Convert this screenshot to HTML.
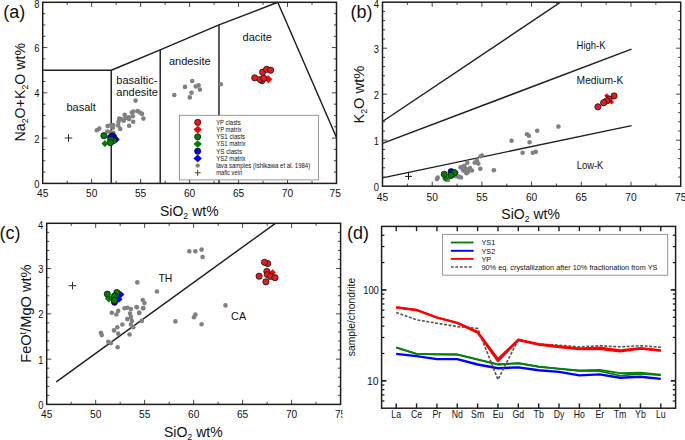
<!DOCTYPE html><html><head><meta charset="utf-8"><style>html,body{margin:0;padding:0;background:#fff;width:685px;height:440px;overflow:hidden}svg{display:block}</style></head><body><svg width="685" height="440" viewBox="0 0 685 440" font-family="'Liberation Sans', sans-serif">
<rect width="685" height="440" fill="#fff"/>
<line x1="42.70" y1="70.21" x2="111.25" y2="70.21" stroke="#1e1e1e" stroke-width="1.45" />
<line x1="111.25" y1="183.40" x2="111.25" y2="70.21" stroke="#1e1e1e" stroke-width="1.45" />
<line x1="160.22" y1="183.40" x2="160.22" y2="49.84" stroke="#1e1e1e" stroke-width="1.45" />
<line x1="218.98" y1="183.40" x2="218.98" y2="24.94" stroke="#1e1e1e" stroke-width="1.45" />
<polyline points="111.25,70.21 160.22,49.84 218.98,24.94 277.74,2.30" fill="none" stroke="#1e1e1e" stroke-width="1.45"/>
<line x1="277.74" y1="2.30" x2="336.50" y2="137.45" stroke="#1e1e1e" stroke-width="1.45" />
<circle cx="135.60" cy="100.60" r="2.3" fill="#808080" stroke="none" stroke-width="0"/>
<circle cx="96.80" cy="130.20" r="2.3" fill="#808080" stroke="none" stroke-width="0"/>
<circle cx="99.30" cy="128.60" r="2.3" fill="#808080" stroke="none" stroke-width="0"/>
<circle cx="107.60" cy="126.10" r="2.3" fill="#808080" stroke="none" stroke-width="0"/>
<circle cx="110.50" cy="125.40" r="2.3" fill="#808080" stroke="none" stroke-width="0"/>
<circle cx="113.30" cy="125.10" r="2.3" fill="#808080" stroke="none" stroke-width="0"/>
<circle cx="113.00" cy="127.60" r="2.3" fill="#808080" stroke="none" stroke-width="0"/>
<circle cx="107.30" cy="131.50" r="2.3" fill="#808080" stroke="none" stroke-width="0"/>
<circle cx="110.50" cy="132.10" r="2.3" fill="#808080" stroke="none" stroke-width="0"/>
<circle cx="113.30" cy="132.70" r="2.3" fill="#808080" stroke="none" stroke-width="0"/>
<circle cx="119.20" cy="118.60" r="2.3" fill="#808080" stroke="none" stroke-width="0"/>
<circle cx="118.50" cy="122.00" r="2.3" fill="#808080" stroke="none" stroke-width="0"/>
<circle cx="118.20" cy="125.40" r="2.3" fill="#808080" stroke="none" stroke-width="0"/>
<circle cx="120.20" cy="128.90" r="2.3" fill="#808080" stroke="none" stroke-width="0"/>
<circle cx="121.60" cy="119.30" r="2.3" fill="#808080" stroke="none" stroke-width="0"/>
<circle cx="123.60" cy="120.70" r="2.3" fill="#808080" stroke="none" stroke-width="0"/>
<circle cx="124.70" cy="114.90" r="2.3" fill="#808080" stroke="none" stroke-width="0"/>
<circle cx="125.70" cy="118.00" r="2.3" fill="#808080" stroke="none" stroke-width="0"/>
<circle cx="128.10" cy="118.00" r="2.3" fill="#808080" stroke="none" stroke-width="0"/>
<circle cx="129.10" cy="119.30" r="2.3" fill="#808080" stroke="none" stroke-width="0"/>
<circle cx="128.70" cy="117.30" r="2.3" fill="#808080" stroke="none" stroke-width="0"/>
<circle cx="131.80" cy="112.50" r="2.3" fill="#808080" stroke="none" stroke-width="0"/>
<circle cx="133.50" cy="111.50" r="2.3" fill="#808080" stroke="none" stroke-width="0"/>
<circle cx="132.80" cy="116.20" r="2.3" fill="#808080" stroke="none" stroke-width="0"/>
<circle cx="133.20" cy="121.70" r="2.3" fill="#808080" stroke="none" stroke-width="0"/>
<circle cx="129.10" cy="125.80" r="2.3" fill="#808080" stroke="none" stroke-width="0"/>
<circle cx="137.60" cy="111.10" r="2.3" fill="#808080" stroke="none" stroke-width="0"/>
<circle cx="140.00" cy="112.50" r="2.3" fill="#808080" stroke="none" stroke-width="0"/>
<circle cx="142.00" cy="113.90" r="2.3" fill="#808080" stroke="none" stroke-width="0"/>
<circle cx="143.40" cy="118.60" r="2.3" fill="#808080" stroke="none" stroke-width="0"/>
<circle cx="174.30" cy="95.00" r="2.3" fill="#808080" stroke="none" stroke-width="0"/>
<circle cx="185.00" cy="86.90" r="2.3" fill="#808080" stroke="none" stroke-width="0"/>
<circle cx="192.20" cy="81.00" r="2.3" fill="#808080" stroke="none" stroke-width="0"/>
<circle cx="195.80" cy="86.40" r="2.3" fill="#808080" stroke="none" stroke-width="0"/>
<circle cx="198.60" cy="85.30" r="2.3" fill="#808080" stroke="none" stroke-width="0"/>
<circle cx="199.90" cy="89.60" r="2.3" fill="#808080" stroke="none" stroke-width="0"/>
<circle cx="191.50" cy="92.70" r="2.3" fill="#808080" stroke="none" stroke-width="0"/>
<circle cx="189.80" cy="97.40" r="2.3" fill="#808080" stroke="none" stroke-width="0"/>
<circle cx="220.80" cy="84.30" r="2.3" fill="#808080" stroke="none" stroke-width="0"/>
<line x1="67.18" y1="183.40" x2="67.18" y2="180.80" stroke="#444" stroke-width="1.0" />
<line x1="67.18" y1="2.30" x2="67.18" y2="4.90" stroke="#444" stroke-width="1.0" />
<line x1="116.15" y1="183.40" x2="116.15" y2="180.80" stroke="#444" stroke-width="1.0" />
<line x1="116.15" y1="2.30" x2="116.15" y2="4.90" stroke="#444" stroke-width="1.0" />
<line x1="165.12" y1="183.40" x2="165.12" y2="180.80" stroke="#444" stroke-width="1.0" />
<line x1="165.12" y1="2.30" x2="165.12" y2="4.90" stroke="#444" stroke-width="1.0" />
<line x1="214.08" y1="183.40" x2="214.08" y2="180.80" stroke="#444" stroke-width="1.0" />
<line x1="214.08" y1="2.30" x2="214.08" y2="4.90" stroke="#444" stroke-width="1.0" />
<line x1="263.05" y1="183.40" x2="263.05" y2="180.80" stroke="#444" stroke-width="1.0" />
<line x1="263.05" y1="2.30" x2="263.05" y2="4.90" stroke="#444" stroke-width="1.0" />
<line x1="312.02" y1="183.40" x2="312.02" y2="180.80" stroke="#444" stroke-width="1.0" />
<line x1="312.02" y1="2.30" x2="312.02" y2="4.90" stroke="#444" stroke-width="1.0" />
<line x1="91.67" y1="183.40" x2="91.67" y2="178.80" stroke="#444" stroke-width="1.0" />
<line x1="91.67" y1="2.30" x2="91.67" y2="6.90" stroke="#444" stroke-width="1.0" />
<line x1="140.63" y1="183.40" x2="140.63" y2="178.80" stroke="#444" stroke-width="1.0" />
<line x1="140.63" y1="2.30" x2="140.63" y2="6.90" stroke="#444" stroke-width="1.0" />
<line x1="189.60" y1="183.40" x2="189.60" y2="178.80" stroke="#444" stroke-width="1.0" />
<line x1="189.60" y1="2.30" x2="189.60" y2="6.90" stroke="#444" stroke-width="1.0" />
<line x1="238.57" y1="183.40" x2="238.57" y2="178.80" stroke="#444" stroke-width="1.0" />
<line x1="238.57" y1="2.30" x2="238.57" y2="6.90" stroke="#444" stroke-width="1.0" />
<line x1="287.53" y1="183.40" x2="287.53" y2="178.80" stroke="#444" stroke-width="1.0" />
<line x1="287.53" y1="2.30" x2="287.53" y2="6.90" stroke="#444" stroke-width="1.0" />
<line x1="42.70" y1="172.08" x2="45.30" y2="172.08" stroke="#444" stroke-width="1.0" />
<line x1="336.50" y1="172.08" x2="333.90" y2="172.08" stroke="#444" stroke-width="1.0" />
<line x1="42.70" y1="160.76" x2="45.30" y2="160.76" stroke="#444" stroke-width="1.0" />
<line x1="336.50" y1="160.76" x2="333.90" y2="160.76" stroke="#444" stroke-width="1.0" />
<line x1="42.70" y1="149.44" x2="45.30" y2="149.44" stroke="#444" stroke-width="1.0" />
<line x1="336.50" y1="149.44" x2="333.90" y2="149.44" stroke="#444" stroke-width="1.0" />
<line x1="42.70" y1="126.81" x2="45.30" y2="126.81" stroke="#444" stroke-width="1.0" />
<line x1="336.50" y1="126.81" x2="333.90" y2="126.81" stroke="#444" stroke-width="1.0" />
<line x1="42.70" y1="115.49" x2="45.30" y2="115.49" stroke="#444" stroke-width="1.0" />
<line x1="336.50" y1="115.49" x2="333.90" y2="115.49" stroke="#444" stroke-width="1.0" />
<line x1="42.70" y1="104.17" x2="45.30" y2="104.17" stroke="#444" stroke-width="1.0" />
<line x1="336.50" y1="104.17" x2="333.90" y2="104.17" stroke="#444" stroke-width="1.0" />
<line x1="42.70" y1="81.53" x2="45.30" y2="81.53" stroke="#444" stroke-width="1.0" />
<line x1="336.50" y1="81.53" x2="333.90" y2="81.53" stroke="#444" stroke-width="1.0" />
<line x1="42.70" y1="70.21" x2="45.30" y2="70.21" stroke="#444" stroke-width="1.0" />
<line x1="336.50" y1="70.21" x2="333.90" y2="70.21" stroke="#444" stroke-width="1.0" />
<line x1="42.70" y1="58.89" x2="45.30" y2="58.89" stroke="#444" stroke-width="1.0" />
<line x1="336.50" y1="58.89" x2="333.90" y2="58.89" stroke="#444" stroke-width="1.0" />
<line x1="42.70" y1="36.26" x2="45.30" y2="36.26" stroke="#444" stroke-width="1.0" />
<line x1="336.50" y1="36.26" x2="333.90" y2="36.26" stroke="#444" stroke-width="1.0" />
<line x1="42.70" y1="24.94" x2="45.30" y2="24.94" stroke="#444" stroke-width="1.0" />
<line x1="336.50" y1="24.94" x2="333.90" y2="24.94" stroke="#444" stroke-width="1.0" />
<line x1="42.70" y1="13.62" x2="45.30" y2="13.62" stroke="#444" stroke-width="1.0" />
<line x1="336.50" y1="13.62" x2="333.90" y2="13.62" stroke="#444" stroke-width="1.0" />
<line x1="42.70" y1="138.12" x2="47.30" y2="138.12" stroke="#444" stroke-width="1.0" />
<line x1="336.50" y1="138.12" x2="331.90" y2="138.12" stroke="#444" stroke-width="1.0" />
<line x1="42.70" y1="92.85" x2="47.30" y2="92.85" stroke="#444" stroke-width="1.0" />
<line x1="336.50" y1="92.85" x2="331.90" y2="92.85" stroke="#444" stroke-width="1.0" />
<line x1="42.70" y1="47.58" x2="47.30" y2="47.58" stroke="#444" stroke-width="1.0" />
<line x1="336.50" y1="47.58" x2="331.90" y2="47.58" stroke="#444" stroke-width="1.0" />
<text x="116.35" y="83.50" font-size="11" text-anchor="start" fill="#111" >basaltic-</text>
<text x="116.35" y="95.50" font-size="11" text-anchor="start" fill="#111" >andesite</text>
<text x="66.40" y="111.00" font-size="11" text-anchor="start" fill="#111" >basalt</text>
<text x="169.00" y="64.90" font-size="11" text-anchor="start" fill="#111" >andesite</text>
<text x="242.60" y="40.70" font-size="11" text-anchor="start" fill="#111" >dacite</text>
<path d="M113.50 139.40L116.60 136.10L119.70 139.40L116.60 142.70Z" fill="#0000ff" stroke="none" stroke-width="0"/>
<circle cx="113.50" cy="136.80" r="3.1" fill="#0000ff" stroke="#111" stroke-width="0.8"/>
<circle cx="112.30" cy="135.90" r="3.1" fill="#0000ff" stroke="#111" stroke-width="0.8"/>
<circle cx="110.60" cy="137.40" r="3.1" fill="#0000ff" stroke="#111" stroke-width="0.8"/>
<circle cx="103.90" cy="135.70" r="3.1" fill="#008000" stroke="#111" stroke-width="0.8"/>
<path d="M101.50 143.60L104.90 140.00L108.30 143.60L104.90 147.20Z" fill="#008000" stroke="none" stroke-width="0"/>
<circle cx="113.50" cy="140.60" r="3.1" fill="#008000" stroke="#111" stroke-width="0.8"/>
<circle cx="110.80" cy="139.80" r="3.1" fill="#008000" stroke="#111" stroke-width="0.8"/>
<circle cx="110.40" cy="142.70" r="3.1" fill="#008000" stroke="#111" stroke-width="0.8"/>
<path d="M264.30 79.30L268.30 75.30L272.30 79.30L268.30 83.30Z" fill="#ff0000" stroke="none" stroke-width="0"/>
<circle cx="254.70" cy="77.80" r="3.1" fill="#e41c1f" stroke="#111" stroke-width="0.8"/>
<circle cx="262.00" cy="80.70" r="3.1" fill="#e41c1f" stroke="#111" stroke-width="0.8"/>
<circle cx="260.30" cy="79.50" r="3.1" fill="#e41c1f" stroke="#111" stroke-width="0.8"/>
<circle cx="263.80" cy="78.20" r="3.1" fill="#e41c1f" stroke="#111" stroke-width="0.8"/>
<circle cx="262.60" cy="72.20" r="3.1" fill="#e41c1f" stroke="#111" stroke-width="0.8"/>
<circle cx="266.60" cy="69.30" r="3.1" fill="#e41c1f" stroke="#111" stroke-width="0.8"/>
<circle cx="270.60" cy="70.20" r="3.1" fill="#e41c1f" stroke="#111" stroke-width="0.8"/>
<line x1="64.75" y1="138.00" x2="72.25" y2="138.00" stroke="#2a2a2a" stroke-width="1.0" />
<line x1="68.50" y1="134.25" x2="68.50" y2="141.75" stroke="#2a2a2a" stroke-width="1.0" />
<rect x="179.4" y="115.3" width="139.0" height="64.6" fill="#fff" stroke="#8a8a8a" stroke-width="0.9"/>
<circle cx="197.70" cy="122.40" r="3.1" fill="#e41c1f" stroke="#111" stroke-width="0.8"/>
<path d="M193.40 129.60L197.70 125.80L202.00 129.60L197.70 133.40Z" fill="#ff0000" stroke="none" stroke-width="0"/>
<circle cx="197.70" cy="136.80" r="3.1" fill="#008000" stroke="#111" stroke-width="0.8"/>
<path d="M193.40 144.00L197.70 140.20L202.00 144.00L197.70 147.80Z" fill="#008000" stroke="none" stroke-width="0"/>
<circle cx="197.70" cy="151.20" r="3.1" fill="#0000ff" stroke="#111" stroke-width="0.8"/>
<path d="M193.40 158.40L197.70 154.60L202.00 158.40L197.70 162.20Z" fill="#0000ff" stroke="none" stroke-width="0"/>
<circle cx="197.70" cy="165.60" r="2.2" fill="#808080" stroke="none" stroke-width="0"/>
<line x1="194.70" y1="172.80" x2="200.70" y2="172.80" stroke="#333" stroke-width="0.9" />
<line x1="197.70" y1="169.80" x2="197.70" y2="175.80" stroke="#333" stroke-width="0.9" />
<text x="216.20" y="124.80" font-size="6.5" text-anchor="start" fill="#111" textLength="24.5" lengthAdjust="spacingAndGlyphs">YP clasts</text>
<text x="216.20" y="132.00" font-size="6.5" text-anchor="start" fill="#111" textLength="25.5" lengthAdjust="spacingAndGlyphs">YP matrix</text>
<text x="216.20" y="139.20" font-size="6.5" text-anchor="start" fill="#111" textLength="29" lengthAdjust="spacingAndGlyphs">YS1 clasts</text>
<text x="216.20" y="146.40" font-size="6.5" text-anchor="start" fill="#111" textLength="29.4" lengthAdjust="spacingAndGlyphs">YS1 matrix</text>
<text x="216.20" y="153.60" font-size="6.5" text-anchor="start" fill="#111" textLength="25.8" lengthAdjust="spacingAndGlyphs">YS clasts</text>
<text x="216.20" y="160.80" font-size="6.5" text-anchor="start" fill="#111" textLength="29.4" lengthAdjust="spacingAndGlyphs">YS2 matrix</text>
<text x="216.20" y="168.00" font-size="6.5" text-anchor="start" fill="#111" textLength="94" lengthAdjust="spacingAndGlyphs">lava samples (Ishikawa et al. 1984)</text>
<text x="216.20" y="175.20" font-size="6.5" text-anchor="start" fill="#111" textLength="26" lengthAdjust="spacingAndGlyphs">mafic vein</text>
<rect x="42.7" y="2.3" width="293.80" height="181.10" fill="none" stroke="#1e1e1e" stroke-width="1.5"/>
<text transform="translate(39.40,187.90) scale(0.9,1)" font-size="10.4" text-anchor="end" fill="#111" >0</text>
<text transform="translate(39.40,142.62) scale(0.9,1)" font-size="10.4" text-anchor="end" fill="#111" >2</text>
<text transform="translate(39.40,97.35) scale(0.9,1)" font-size="10.4" text-anchor="end" fill="#111" >4</text>
<text transform="translate(39.40,52.08) scale(0.9,1)" font-size="10.4" text-anchor="end" fill="#111" >6</text>
<text transform="translate(39.40,7.80) scale(0.9,1)" font-size="10.4" text-anchor="end" fill="#111" >8</text>
<text x="42.70" y="197.20" font-size="10.2" text-anchor="middle" fill="#111" >45</text>
<text x="91.67" y="197.20" font-size="10.2" text-anchor="middle" fill="#111" >50</text>
<text x="140.63" y="197.20" font-size="10.2" text-anchor="middle" fill="#111" >55</text>
<text x="189.60" y="197.20" font-size="10.2" text-anchor="middle" fill="#111" >60</text>
<text x="238.57" y="197.20" font-size="10.2" text-anchor="middle" fill="#111" >65</text>
<text x="287.53" y="197.20" font-size="10.2" text-anchor="middle" fill="#111" >70</text>
<text x="335.20" y="197.20" font-size="10.2" text-anchor="middle" fill="#111" >75</text>
<text x="189.30" y="215.80" font-size="14" text-anchor="middle" fill="#111" >SiO<tspan font-size="8.8" dy="2.7">2</tspan><tspan dy="-2.7"> wt%</tspan></text>
<text transform="translate(24.8,92.2) rotate(-90)" font-size="14.2" text-anchor="middle" fill="#111">Na<tspan font-size="8.8" dy="2.7">2</tspan><tspan dy="-2.7">O+K</tspan><tspan font-size="8.8" dy="2.7">2</tspan><tspan dy="-2.7">O wt%</tspan></text>
<text x="3.20" y="17.90" font-size="18" text-anchor="start" fill="#111" >(a)</text>
<clipPath id="cb"><rect x="382.5" y="2.2" width="298.20000000000005" height="184.0"/></clipPath>
<g clip-path="url(#cb)">
<line x1="382.50" y1="177.90" x2="631.60" y2="125.60" stroke="#1e1e1e" stroke-width="1.45" />
<line x1="382.50" y1="143.40" x2="631.50" y2="49.10" stroke="#1e1e1e" stroke-width="1.45" />
<line x1="382.50" y1="121.50" x2="560.50" y2="2.20" stroke="#1e1e1e" stroke-width="1.45" />
</g>
<circle cx="511.60" cy="140.70" r="2.3" fill="#808080" stroke="none" stroke-width="0"/>
<circle cx="480.60" cy="156.20" r="2.3" fill="#808080" stroke="none" stroke-width="0"/>
<circle cx="482.00" cy="155.50" r="2.3" fill="#808080" stroke="none" stroke-width="0"/>
<circle cx="478.30" cy="163.60" r="2.3" fill="#808080" stroke="none" stroke-width="0"/>
<circle cx="474.70" cy="162.80" r="2.3" fill="#808080" stroke="none" stroke-width="0"/>
<circle cx="476.90" cy="160.60" r="2.3" fill="#808080" stroke="none" stroke-width="0"/>
<circle cx="480.30" cy="168.70" r="2.3" fill="#808080" stroke="none" stroke-width="0"/>
<circle cx="493.90" cy="170.20" r="2.3" fill="#808080" stroke="none" stroke-width="0"/>
<circle cx="467.30" cy="162.80" r="2.3" fill="#808080" stroke="none" stroke-width="0"/>
<circle cx="464.30" cy="165.80" r="2.3" fill="#808080" stroke="none" stroke-width="0"/>
<circle cx="460.60" cy="167.30" r="2.3" fill="#808080" stroke="none" stroke-width="0"/>
<circle cx="465.80" cy="168.70" r="2.3" fill="#808080" stroke="none" stroke-width="0"/>
<circle cx="468.70" cy="169.50" r="2.3" fill="#808080" stroke="none" stroke-width="0"/>
<circle cx="464.30" cy="171.00" r="2.3" fill="#808080" stroke="none" stroke-width="0"/>
<circle cx="466.50" cy="173.20" r="2.3" fill="#808080" stroke="none" stroke-width="0"/>
<circle cx="437.70" cy="177.60" r="2.3" fill="#808080" stroke="none" stroke-width="0"/>
<circle cx="437.00" cy="179.10" r="2.3" fill="#808080" stroke="none" stroke-width="0"/>
<circle cx="445.10" cy="179.10" r="2.3" fill="#808080" stroke="none" stroke-width="0"/>
<circle cx="459.10" cy="176.90" r="2.3" fill="#808080" stroke="none" stroke-width="0"/>
<circle cx="455.50" cy="176.10" r="2.3" fill="#808080" stroke="none" stroke-width="0"/>
<circle cx="462.00" cy="167.00" r="2.3" fill="#808080" stroke="none" stroke-width="0"/>
<circle cx="470.00" cy="168.00" r="2.3" fill="#808080" stroke="none" stroke-width="0"/>
<circle cx="472.00" cy="170.50" r="2.3" fill="#808080" stroke="none" stroke-width="0"/>
<circle cx="468.00" cy="172.00" r="2.3" fill="#808080" stroke="none" stroke-width="0"/>
<circle cx="463.00" cy="170.00" r="2.3" fill="#808080" stroke="none" stroke-width="0"/>
<circle cx="458.00" cy="176.50" r="2.3" fill="#808080" stroke="none" stroke-width="0"/>
<circle cx="461.00" cy="177.50" r="2.3" fill="#808080" stroke="none" stroke-width="0"/>
<circle cx="448.00" cy="180.00" r="2.3" fill="#808080" stroke="none" stroke-width="0"/>
<circle cx="527.00" cy="134.30" r="2.3" fill="#808080" stroke="none" stroke-width="0"/>
<circle cx="528.90" cy="135.80" r="2.3" fill="#808080" stroke="none" stroke-width="0"/>
<circle cx="537.20" cy="130.70" r="2.3" fill="#808080" stroke="none" stroke-width="0"/>
<circle cx="558.40" cy="126.60" r="2.3" fill="#808080" stroke="none" stroke-width="0"/>
<circle cx="529.60" cy="142.30" r="2.3" fill="#808080" stroke="none" stroke-width="0"/>
<circle cx="522.60" cy="152.80" r="2.3" fill="#808080" stroke="none" stroke-width="0"/>
<circle cx="532.80" cy="152.80" r="2.3" fill="#808080" stroke="none" stroke-width="0"/>
<circle cx="535.80" cy="151.80" r="2.3" fill="#808080" stroke="none" stroke-width="0"/>
<line x1="407.35" y1="186.20" x2="407.35" y2="183.60" stroke="#444" stroke-width="1.0" />
<line x1="407.35" y1="2.20" x2="407.35" y2="4.80" stroke="#444" stroke-width="1.0" />
<line x1="457.05" y1="186.20" x2="457.05" y2="183.60" stroke="#444" stroke-width="1.0" />
<line x1="457.05" y1="2.20" x2="457.05" y2="4.80" stroke="#444" stroke-width="1.0" />
<line x1="506.75" y1="186.20" x2="506.75" y2="183.60" stroke="#444" stroke-width="1.0" />
<line x1="506.75" y1="2.20" x2="506.75" y2="4.80" stroke="#444" stroke-width="1.0" />
<line x1="556.45" y1="186.20" x2="556.45" y2="183.60" stroke="#444" stroke-width="1.0" />
<line x1="556.45" y1="2.20" x2="556.45" y2="4.80" stroke="#444" stroke-width="1.0" />
<line x1="606.15" y1="186.20" x2="606.15" y2="183.60" stroke="#444" stroke-width="1.0" />
<line x1="606.15" y1="2.20" x2="606.15" y2="4.80" stroke="#444" stroke-width="1.0" />
<line x1="655.85" y1="186.20" x2="655.85" y2="183.60" stroke="#444" stroke-width="1.0" />
<line x1="655.85" y1="2.20" x2="655.85" y2="4.80" stroke="#444" stroke-width="1.0" />
<line x1="432.20" y1="186.20" x2="432.20" y2="181.60" stroke="#444" stroke-width="1.0" />
<line x1="432.20" y1="2.20" x2="432.20" y2="6.80" stroke="#444" stroke-width="1.0" />
<line x1="481.90" y1="186.20" x2="481.90" y2="181.60" stroke="#444" stroke-width="1.0" />
<line x1="481.90" y1="2.20" x2="481.90" y2="6.80" stroke="#444" stroke-width="1.0" />
<line x1="531.60" y1="186.20" x2="531.60" y2="181.60" stroke="#444" stroke-width="1.0" />
<line x1="531.60" y1="2.20" x2="531.60" y2="6.80" stroke="#444" stroke-width="1.0" />
<line x1="581.30" y1="186.20" x2="581.30" y2="181.60" stroke="#444" stroke-width="1.0" />
<line x1="581.30" y1="2.20" x2="581.30" y2="6.80" stroke="#444" stroke-width="1.0" />
<line x1="631.00" y1="186.20" x2="631.00" y2="181.60" stroke="#444" stroke-width="1.0" />
<line x1="631.00" y1="2.20" x2="631.00" y2="6.80" stroke="#444" stroke-width="1.0" />
<line x1="382.50" y1="177.00" x2="385.10" y2="177.00" stroke="#444" stroke-width="1.0" />
<line x1="680.70" y1="177.00" x2="678.10" y2="177.00" stroke="#444" stroke-width="1.0" />
<line x1="382.50" y1="167.80" x2="385.10" y2="167.80" stroke="#444" stroke-width="1.0" />
<line x1="680.70" y1="167.80" x2="678.10" y2="167.80" stroke="#444" stroke-width="1.0" />
<line x1="382.50" y1="158.60" x2="385.10" y2="158.60" stroke="#444" stroke-width="1.0" />
<line x1="680.70" y1="158.60" x2="678.10" y2="158.60" stroke="#444" stroke-width="1.0" />
<line x1="382.50" y1="149.40" x2="385.10" y2="149.40" stroke="#444" stroke-width="1.0" />
<line x1="680.70" y1="149.40" x2="678.10" y2="149.40" stroke="#444" stroke-width="1.0" />
<line x1="382.50" y1="131.00" x2="385.10" y2="131.00" stroke="#444" stroke-width="1.0" />
<line x1="680.70" y1="131.00" x2="678.10" y2="131.00" stroke="#444" stroke-width="1.0" />
<line x1="382.50" y1="121.80" x2="385.10" y2="121.80" stroke="#444" stroke-width="1.0" />
<line x1="680.70" y1="121.80" x2="678.10" y2="121.80" stroke="#444" stroke-width="1.0" />
<line x1="382.50" y1="112.60" x2="385.10" y2="112.60" stroke="#444" stroke-width="1.0" />
<line x1="680.70" y1="112.60" x2="678.10" y2="112.60" stroke="#444" stroke-width="1.0" />
<line x1="382.50" y1="103.40" x2="385.10" y2="103.40" stroke="#444" stroke-width="1.0" />
<line x1="680.70" y1="103.40" x2="678.10" y2="103.40" stroke="#444" stroke-width="1.0" />
<line x1="382.50" y1="85.00" x2="385.10" y2="85.00" stroke="#444" stroke-width="1.0" />
<line x1="680.70" y1="85.00" x2="678.10" y2="85.00" stroke="#444" stroke-width="1.0" />
<line x1="382.50" y1="75.80" x2="385.10" y2="75.80" stroke="#444" stroke-width="1.0" />
<line x1="680.70" y1="75.80" x2="678.10" y2="75.80" stroke="#444" stroke-width="1.0" />
<line x1="382.50" y1="66.60" x2="385.10" y2="66.60" stroke="#444" stroke-width="1.0" />
<line x1="680.70" y1="66.60" x2="678.10" y2="66.60" stroke="#444" stroke-width="1.0" />
<line x1="382.50" y1="57.40" x2="385.10" y2="57.40" stroke="#444" stroke-width="1.0" />
<line x1="680.70" y1="57.40" x2="678.10" y2="57.40" stroke="#444" stroke-width="1.0" />
<line x1="382.50" y1="39.00" x2="385.10" y2="39.00" stroke="#444" stroke-width="1.0" />
<line x1="680.70" y1="39.00" x2="678.10" y2="39.00" stroke="#444" stroke-width="1.0" />
<line x1="382.50" y1="29.80" x2="385.10" y2="29.80" stroke="#444" stroke-width="1.0" />
<line x1="680.70" y1="29.80" x2="678.10" y2="29.80" stroke="#444" stroke-width="1.0" />
<line x1="382.50" y1="20.60" x2="385.10" y2="20.60" stroke="#444" stroke-width="1.0" />
<line x1="680.70" y1="20.60" x2="678.10" y2="20.60" stroke="#444" stroke-width="1.0" />
<line x1="382.50" y1="11.40" x2="385.10" y2="11.40" stroke="#444" stroke-width="1.0" />
<line x1="680.70" y1="11.40" x2="678.10" y2="11.40" stroke="#444" stroke-width="1.0" />
<line x1="382.50" y1="140.20" x2="387.10" y2="140.20" stroke="#444" stroke-width="1.0" />
<line x1="680.70" y1="140.20" x2="676.10" y2="140.20" stroke="#444" stroke-width="1.0" />
<line x1="382.50" y1="94.20" x2="387.10" y2="94.20" stroke="#444" stroke-width="1.0" />
<line x1="680.70" y1="94.20" x2="676.10" y2="94.20" stroke="#444" stroke-width="1.0" />
<line x1="382.50" y1="48.20" x2="387.10" y2="48.20" stroke="#444" stroke-width="1.0" />
<line x1="680.70" y1="48.20" x2="676.10" y2="48.20" stroke="#444" stroke-width="1.0" />
<text x="576.60" y="48.80" font-size="10.4" text-anchor="start" fill="#111" textLength="29" lengthAdjust="spacingAndGlyphs">High-K</text>
<text x="576.60" y="83.50" font-size="10.4" text-anchor="start" fill="#111" textLength="46.8" lengthAdjust="spacingAndGlyphs">Medium-K</text>
<text x="576.70" y="168.80" font-size="10.4" text-anchor="start" fill="#111" textLength="26.6" lengthAdjust="spacingAndGlyphs">Low-K</text>
<circle cx="451.20" cy="171.60" r="3.1" fill="#0000ff" stroke="#111" stroke-width="0.8"/>
<path d="M451.40 172.60L455.00 169.00L458.60 172.60L455.00 176.20Z" fill="#0000ff" stroke="none" stroke-width="0"/>
<path d="M442.10 178.20L445.70 174.60L449.30 178.20L445.70 181.80Z" fill="#008000" stroke="none" stroke-width="0"/>
<circle cx="444.30" cy="174.30" r="3.1" fill="#008000" stroke="#111" stroke-width="0.8"/>
<circle cx="454.50" cy="172.80" r="3.1" fill="#008000" stroke="#111" stroke-width="0.8"/>
<circle cx="451.00" cy="175.50" r="3.1" fill="#008000" stroke="#111" stroke-width="0.8"/>
<path d="M604.20 95.80L606.80 93.20L609.40 95.80L606.80 98.40Z" fill="#ff0000" stroke="none" stroke-width="0"/>
<path d="M608.80 102.00L611.40 99.40L614.00 102.00L611.40 104.60Z" fill="#ff0000" stroke="none" stroke-width="0"/>
<circle cx="614.10" cy="95.90" r="3.1" fill="#e41c1f" stroke="#111" stroke-width="0.8"/>
<circle cx="609.10" cy="99.10" r="3.1" fill="#e41c1f" stroke="#111" stroke-width="0.8"/>
<circle cx="606.80" cy="100.90" r="3.1" fill="#e41c1f" stroke="#111" stroke-width="0.8"/>
<circle cx="603.60" cy="102.70" r="3.1" fill="#e41c1f" stroke="#111" stroke-width="0.8"/>
<circle cx="597.90" cy="106.80" r="3.1" fill="#e41c1f" stroke="#111" stroke-width="0.8"/>
<line x1="405.05" y1="176.40" x2="411.95" y2="176.40" stroke="#111" stroke-width="1.0" />
<line x1="408.50" y1="172.95" x2="408.50" y2="179.85" stroke="#111" stroke-width="1.0" />
<rect x="382.5" y="2.2" width="298.20" height="184.00" fill="none" stroke="#1e1e1e" stroke-width="1.5"/>
<text transform="translate(379.00,190.70) scale(0.88,1)" font-size="10.6" text-anchor="end" fill="#111" >0</text>
<text transform="translate(379.00,144.70) scale(0.88,1)" font-size="10.6" text-anchor="end" fill="#111" >1</text>
<text transform="translate(379.00,98.70) scale(0.88,1)" font-size="10.6" text-anchor="end" fill="#111" >2</text>
<text transform="translate(379.00,52.70) scale(0.88,1)" font-size="10.6" text-anchor="end" fill="#111" >3</text>
<text transform="translate(379.00,7.80) scale(0.88,1)" font-size="10.6" text-anchor="end" fill="#111" >4</text>
<text transform="translate(382.50,200.60) scale(0.95,1)" font-size="10.8" text-anchor="middle" fill="#111" >45</text>
<text transform="translate(432.20,200.60) scale(0.95,1)" font-size="10.8" text-anchor="middle" fill="#111" >50</text>
<text transform="translate(481.90,200.60) scale(0.95,1)" font-size="10.8" text-anchor="middle" fill="#111" >55</text>
<text transform="translate(531.60,200.60) scale(0.95,1)" font-size="10.8" text-anchor="middle" fill="#111" >60</text>
<text transform="translate(581.30,200.60) scale(0.95,1)" font-size="10.8" text-anchor="middle" fill="#111" >65</text>
<text transform="translate(631.00,200.60) scale(0.95,1)" font-size="10.8" text-anchor="middle" fill="#111" >70</text>
<text transform="translate(680.70,200.60) scale(0.95,1)" font-size="10.8" text-anchor="middle" fill="#111" >75</text>
<text x="530.60" y="219.20" font-size="14" text-anchor="middle" fill="#111" >SiO<tspan font-size="8.8" dy="2.7">2</tspan><tspan dy="-2.7"> wt%</tspan></text>
<text transform="translate(364.1,94.6) rotate(-90)" font-size="14.7" text-anchor="middle" fill="#111">K<tspan font-size="8.8" dy="2.7">2</tspan><tspan dy="-2.7">O wt%</tspan></text>
<text x="350.50" y="17.60" font-size="18" text-anchor="start" fill="#111" >(b)</text>
<line x1="56.30" y1="381.90" x2="275.40" y2="223.30" stroke="#1e1e1e" stroke-width="1.45" />
<circle cx="137.30" cy="282.40" r="2.3" fill="#808080" stroke="none" stroke-width="0"/>
<circle cx="156.90" cy="291.50" r="2.3" fill="#808080" stroke="none" stroke-width="0"/>
<circle cx="142.70" cy="300.00" r="2.3" fill="#808080" stroke="none" stroke-width="0"/>
<circle cx="144.50" cy="303.10" r="2.3" fill="#808080" stroke="none" stroke-width="0"/>
<circle cx="111.80" cy="312.70" r="2.3" fill="#808080" stroke="none" stroke-width="0"/>
<circle cx="118.20" cy="310.90" r="2.3" fill="#808080" stroke="none" stroke-width="0"/>
<circle cx="116.40" cy="314.50" r="2.3" fill="#808080" stroke="none" stroke-width="0"/>
<circle cx="124.50" cy="308.20" r="2.3" fill="#808080" stroke="none" stroke-width="0"/>
<circle cx="127.30" cy="307.80" r="2.3" fill="#808080" stroke="none" stroke-width="0"/>
<circle cx="130.90" cy="309.10" r="2.3" fill="#808080" stroke="none" stroke-width="0"/>
<circle cx="136.90" cy="307.30" r="2.3" fill="#808080" stroke="none" stroke-width="0"/>
<circle cx="139.10" cy="313.10" r="2.3" fill="#808080" stroke="none" stroke-width="0"/>
<circle cx="143.10" cy="308.20" r="2.3" fill="#808080" stroke="none" stroke-width="0"/>
<circle cx="130.00" cy="313.60" r="2.3" fill="#808080" stroke="none" stroke-width="0"/>
<circle cx="130.90" cy="316.90" r="2.3" fill="#808080" stroke="none" stroke-width="0"/>
<circle cx="127.30" cy="319.10" r="2.3" fill="#808080" stroke="none" stroke-width="0"/>
<circle cx="131.80" cy="320.90" r="2.3" fill="#808080" stroke="none" stroke-width="0"/>
<circle cx="141.80" cy="320.90" r="2.3" fill="#808080" stroke="none" stroke-width="0"/>
<circle cx="130.90" cy="324.50" r="2.3" fill="#808080" stroke="none" stroke-width="0"/>
<circle cx="133.30" cy="327.30" r="2.3" fill="#808080" stroke="none" stroke-width="0"/>
<circle cx="122.40" cy="324.50" r="2.3" fill="#808080" stroke="none" stroke-width="0"/>
<circle cx="117.30" cy="327.30" r="2.3" fill="#808080" stroke="none" stroke-width="0"/>
<circle cx="114.00" cy="330.40" r="2.3" fill="#808080" stroke="none" stroke-width="0"/>
<circle cx="118.20" cy="333.60" r="2.3" fill="#808080" stroke="none" stroke-width="0"/>
<circle cx="100.90" cy="332.70" r="2.3" fill="#808080" stroke="none" stroke-width="0"/>
<circle cx="101.80" cy="335.10" r="2.3" fill="#808080" stroke="none" stroke-width="0"/>
<circle cx="129.60" cy="334.50" r="2.3" fill="#808080" stroke="none" stroke-width="0"/>
<circle cx="108.20" cy="341.80" r="2.3" fill="#808080" stroke="none" stroke-width="0"/>
<circle cx="110.90" cy="343.10" r="2.3" fill="#808080" stroke="none" stroke-width="0"/>
<circle cx="117.60" cy="347.30" r="2.3" fill="#808080" stroke="none" stroke-width="0"/>
<circle cx="189.30" cy="251.20" r="2.3" fill="#808080" stroke="none" stroke-width="0"/>
<circle cx="195.40" cy="251.20" r="2.3" fill="#808080" stroke="none" stroke-width="0"/>
<circle cx="201.60" cy="249.60" r="2.3" fill="#808080" stroke="none" stroke-width="0"/>
<circle cx="202.60" cy="257.00" r="2.3" fill="#808080" stroke="none" stroke-width="0"/>
<circle cx="136.50" cy="307.10" r="2.3" fill="#808080" stroke="none" stroke-width="0"/>
<circle cx="143.30" cy="308.10" r="2.3" fill="#808080" stroke="none" stroke-width="0"/>
<circle cx="139.20" cy="312.60" r="2.3" fill="#808080" stroke="none" stroke-width="0"/>
<circle cx="175.40" cy="321.40" r="2.3" fill="#808080" stroke="none" stroke-width="0"/>
<circle cx="195.40" cy="314.60" r="2.3" fill="#808080" stroke="none" stroke-width="0"/>
<circle cx="194.00" cy="317.30" r="2.3" fill="#808080" stroke="none" stroke-width="0"/>
<circle cx="201.60" cy="324.30" r="2.3" fill="#808080" stroke="none" stroke-width="0"/>
<circle cx="225.50" cy="305.40" r="2.3" fill="#808080" stroke="none" stroke-width="0"/>
<line x1="71.19" y1="404.40" x2="71.19" y2="401.80" stroke="#444" stroke-width="1.0" />
<line x1="71.19" y1="223.30" x2="71.19" y2="225.90" stroke="#444" stroke-width="1.0" />
<line x1="120.18" y1="404.40" x2="120.18" y2="401.80" stroke="#444" stroke-width="1.0" />
<line x1="120.18" y1="223.30" x2="120.18" y2="225.90" stroke="#444" stroke-width="1.0" />
<line x1="169.16" y1="404.40" x2="169.16" y2="401.80" stroke="#444" stroke-width="1.0" />
<line x1="169.16" y1="223.30" x2="169.16" y2="225.90" stroke="#444" stroke-width="1.0" />
<line x1="218.14" y1="404.40" x2="218.14" y2="401.80" stroke="#444" stroke-width="1.0" />
<line x1="218.14" y1="223.30" x2="218.14" y2="225.90" stroke="#444" stroke-width="1.0" />
<line x1="267.13" y1="404.40" x2="267.13" y2="401.80" stroke="#444" stroke-width="1.0" />
<line x1="267.13" y1="223.30" x2="267.13" y2="225.90" stroke="#444" stroke-width="1.0" />
<line x1="316.11" y1="404.40" x2="316.11" y2="401.80" stroke="#444" stroke-width="1.0" />
<line x1="316.11" y1="223.30" x2="316.11" y2="225.90" stroke="#444" stroke-width="1.0" />
<line x1="95.68" y1="404.40" x2="95.68" y2="399.80" stroke="#444" stroke-width="1.0" />
<line x1="95.68" y1="223.30" x2="95.68" y2="227.90" stroke="#444" stroke-width="1.0" />
<line x1="144.67" y1="404.40" x2="144.67" y2="399.80" stroke="#444" stroke-width="1.0" />
<line x1="144.67" y1="223.30" x2="144.67" y2="227.90" stroke="#444" stroke-width="1.0" />
<line x1="193.65" y1="404.40" x2="193.65" y2="399.80" stroke="#444" stroke-width="1.0" />
<line x1="193.65" y1="223.30" x2="193.65" y2="227.90" stroke="#444" stroke-width="1.0" />
<line x1="242.63" y1="404.40" x2="242.63" y2="399.80" stroke="#444" stroke-width="1.0" />
<line x1="242.63" y1="223.30" x2="242.63" y2="227.90" stroke="#444" stroke-width="1.0" />
<line x1="291.62" y1="404.40" x2="291.62" y2="399.80" stroke="#444" stroke-width="1.0" />
<line x1="291.62" y1="223.30" x2="291.62" y2="227.90" stroke="#444" stroke-width="1.0" />
<line x1="46.70" y1="395.34" x2="49.30" y2="395.34" stroke="#444" stroke-width="1.0" />
<line x1="340.60" y1="395.34" x2="338.00" y2="395.34" stroke="#444" stroke-width="1.0" />
<line x1="46.70" y1="386.29" x2="49.30" y2="386.29" stroke="#444" stroke-width="1.0" />
<line x1="340.60" y1="386.29" x2="338.00" y2="386.29" stroke="#444" stroke-width="1.0" />
<line x1="46.70" y1="377.23" x2="49.30" y2="377.23" stroke="#444" stroke-width="1.0" />
<line x1="340.60" y1="377.23" x2="338.00" y2="377.23" stroke="#444" stroke-width="1.0" />
<line x1="46.70" y1="368.18" x2="49.30" y2="368.18" stroke="#444" stroke-width="1.0" />
<line x1="340.60" y1="368.18" x2="338.00" y2="368.18" stroke="#444" stroke-width="1.0" />
<line x1="46.70" y1="350.07" x2="49.30" y2="350.07" stroke="#444" stroke-width="1.0" />
<line x1="340.60" y1="350.07" x2="338.00" y2="350.07" stroke="#444" stroke-width="1.0" />
<line x1="46.70" y1="341.01" x2="49.30" y2="341.01" stroke="#444" stroke-width="1.0" />
<line x1="340.60" y1="341.01" x2="338.00" y2="341.01" stroke="#444" stroke-width="1.0" />
<line x1="46.70" y1="331.96" x2="49.30" y2="331.96" stroke="#444" stroke-width="1.0" />
<line x1="340.60" y1="331.96" x2="338.00" y2="331.96" stroke="#444" stroke-width="1.0" />
<line x1="46.70" y1="322.90" x2="49.30" y2="322.90" stroke="#444" stroke-width="1.0" />
<line x1="340.60" y1="322.90" x2="338.00" y2="322.90" stroke="#444" stroke-width="1.0" />
<line x1="46.70" y1="304.79" x2="49.30" y2="304.79" stroke="#444" stroke-width="1.0" />
<line x1="340.60" y1="304.79" x2="338.00" y2="304.79" stroke="#444" stroke-width="1.0" />
<line x1="46.70" y1="295.74" x2="49.30" y2="295.74" stroke="#444" stroke-width="1.0" />
<line x1="340.60" y1="295.74" x2="338.00" y2="295.74" stroke="#444" stroke-width="1.0" />
<line x1="46.70" y1="286.69" x2="49.30" y2="286.69" stroke="#444" stroke-width="1.0" />
<line x1="340.60" y1="286.69" x2="338.00" y2="286.69" stroke="#444" stroke-width="1.0" />
<line x1="46.70" y1="277.63" x2="49.30" y2="277.63" stroke="#444" stroke-width="1.0" />
<line x1="340.60" y1="277.63" x2="338.00" y2="277.63" stroke="#444" stroke-width="1.0" />
<line x1="46.70" y1="259.52" x2="49.30" y2="259.52" stroke="#444" stroke-width="1.0" />
<line x1="340.60" y1="259.52" x2="338.00" y2="259.52" stroke="#444" stroke-width="1.0" />
<line x1="46.70" y1="250.47" x2="49.30" y2="250.47" stroke="#444" stroke-width="1.0" />
<line x1="340.60" y1="250.47" x2="338.00" y2="250.47" stroke="#444" stroke-width="1.0" />
<line x1="46.70" y1="241.41" x2="49.30" y2="241.41" stroke="#444" stroke-width="1.0" />
<line x1="340.60" y1="241.41" x2="338.00" y2="241.41" stroke="#444" stroke-width="1.0" />
<line x1="46.70" y1="232.35" x2="49.30" y2="232.35" stroke="#444" stroke-width="1.0" />
<line x1="340.60" y1="232.35" x2="338.00" y2="232.35" stroke="#444" stroke-width="1.0" />
<line x1="46.70" y1="359.12" x2="51.30" y2="359.12" stroke="#444" stroke-width="1.0" />
<line x1="340.60" y1="359.12" x2="336.00" y2="359.12" stroke="#444" stroke-width="1.0" />
<line x1="46.70" y1="313.85" x2="51.30" y2="313.85" stroke="#444" stroke-width="1.0" />
<line x1="340.60" y1="313.85" x2="336.00" y2="313.85" stroke="#444" stroke-width="1.0" />
<line x1="46.70" y1="268.57" x2="51.30" y2="268.57" stroke="#444" stroke-width="1.0" />
<line x1="340.60" y1="268.57" x2="336.00" y2="268.57" stroke="#444" stroke-width="1.0" />
<text x="158.50" y="282.00" font-size="11.5" text-anchor="start" fill="#111" textLength="13.9" lengthAdjust="spacingAndGlyphs">TH</text>
<text x="231.10" y="319.80" font-size="11.6" text-anchor="start" fill="#111" textLength="15.0" lengthAdjust="spacingAndGlyphs">CA</text>
<circle cx="114.50" cy="302.20" r="3.1" fill="#0000ff" stroke="#111" stroke-width="0.8"/>
<path d="M117.20 294.50L120.80 290.90L124.40 294.50L120.80 298.10Z" fill="#0000ff" stroke="none" stroke-width="0"/>
<path d="M115.30 299.20L118.90 295.60L122.50 299.20L118.90 302.80Z" fill="#0000ff" stroke="none" stroke-width="0"/>
<path d="M104.90 298.50L108.90 294.50L112.90 298.50L108.90 302.50Z" fill="#008000" stroke="none" stroke-width="0"/>
<circle cx="107.30" cy="294.10" r="3.1" fill="#008000" stroke="#111" stroke-width="0.8"/>
<circle cx="116.90" cy="292.50" r="3.1" fill="#008000" stroke="#111" stroke-width="0.8"/>
<circle cx="114.50" cy="296.10" r="3.1" fill="#008000" stroke="#111" stroke-width="0.8"/>
<circle cx="114.50" cy="300.40" r="3.1" fill="#008000" stroke="#111" stroke-width="0.8"/>
<path d="M269.30 272.60L272.60 269.30L275.90 272.60L272.60 275.90Z" fill="#ff0000" stroke="none" stroke-width="0"/>
<circle cx="267.70" cy="263.60" r="3.1" fill="#e41c1f" stroke="#111" stroke-width="0.8"/>
<circle cx="264.50" cy="262.30" r="3.1" fill="#e41c1f" stroke="#111" stroke-width="0.8"/>
<circle cx="266.80" cy="271.40" r="3.1" fill="#e41c1f" stroke="#111" stroke-width="0.8"/>
<circle cx="267.30" cy="274.50" r="3.1" fill="#e41c1f" stroke="#111" stroke-width="0.8"/>
<circle cx="270.50" cy="276.40" r="3.1" fill="#e41c1f" stroke="#111" stroke-width="0.8"/>
<circle cx="275.00" cy="277.70" r="3.1" fill="#e41c1f" stroke="#111" stroke-width="0.8"/>
<circle cx="259.10" cy="276.20" r="3.1" fill="#e41c1f" stroke="#111" stroke-width="0.8"/>
<circle cx="265.90" cy="281.80" r="3.1" fill="#e41c1f" stroke="#111" stroke-width="0.8"/>
<line x1="68.75" y1="285.70" x2="76.25" y2="285.70" stroke="#2a2a2a" stroke-width="1.0" />
<line x1="72.50" y1="281.95" x2="72.50" y2="289.45" stroke="#2a2a2a" stroke-width="1.0" />
<rect x="46.7" y="223.3" width="293.90" height="181.10" fill="none" stroke="#1e1e1e" stroke-width="1.5"/>
<text transform="translate(43.40,408.90) scale(0.9,1)" font-size="10.4" text-anchor="end" fill="#111" >0</text>
<text transform="translate(43.40,363.62) scale(0.9,1)" font-size="10.4" text-anchor="end" fill="#111" >1</text>
<text transform="translate(43.40,318.35) scale(0.9,1)" font-size="10.4" text-anchor="end" fill="#111" >2</text>
<text transform="translate(43.40,273.07) scale(0.9,1)" font-size="10.4" text-anchor="end" fill="#111" >3</text>
<text transform="translate(43.30,228.70) scale(0.9,1)" font-size="10.4" text-anchor="end" fill="#111" >4</text>
<clipPath id="cc"><rect x="0" y="405" width="342.6" height="20"/></clipPath>
<g clip-path="url(#cc)">
<text x="46.70" y="418.20" font-size="10.2" text-anchor="middle" fill="#111" >45</text>
<text x="95.68" y="418.20" font-size="10.2" text-anchor="middle" fill="#111" >50</text>
<text x="144.67" y="418.20" font-size="10.2" text-anchor="middle" fill="#111" >55</text>
<text x="193.65" y="418.20" font-size="10.2" text-anchor="middle" fill="#111" >60</text>
<text x="242.63" y="418.20" font-size="10.2" text-anchor="middle" fill="#111" >65</text>
<text x="291.62" y="418.20" font-size="10.2" text-anchor="middle" fill="#111" >70</text>
<text x="340.60" y="418.20" font-size="10.2" text-anchor="middle" fill="#111" >75</text>
</g>
<text x="193.30" y="437.20" font-size="14" text-anchor="middle" fill="#111" >SiO<tspan font-size="8.8" dy="2.7">2</tspan><tspan dy="-2.7"> wt%</tspan></text>
<text transform="translate(31.0,313.6) rotate(-90)" font-size="14.6" text-anchor="middle" fill="#111">FeO<tspan font-size="9.5" dy="-5.5">t</tspan><tspan dy="5.5">/MgO wt%</tspan></text>
<text x="-0.60" y="238.90" font-size="18" text-anchor="start" fill="#111" >(c)</text>
<line x1="396.20" y1="408.20" x2="396.20" y2="403.40" stroke="#1e1e1e" stroke-width="1.4" />
<line x1="396.20" y1="226.40" x2="396.20" y2="231.20" stroke="#1e1e1e" stroke-width="1.4" />
<line x1="416.55" y1="408.20" x2="416.55" y2="403.40" stroke="#1e1e1e" stroke-width="1.4" />
<line x1="416.55" y1="226.40" x2="416.55" y2="231.20" stroke="#1e1e1e" stroke-width="1.4" />
<line x1="436.91" y1="408.20" x2="436.91" y2="403.40" stroke="#1e1e1e" stroke-width="1.4" />
<line x1="436.91" y1="226.40" x2="436.91" y2="231.20" stroke="#1e1e1e" stroke-width="1.4" />
<line x1="457.26" y1="408.20" x2="457.26" y2="403.40" stroke="#1e1e1e" stroke-width="1.4" />
<line x1="457.26" y1="226.40" x2="457.26" y2="231.20" stroke="#1e1e1e" stroke-width="1.4" />
<line x1="477.62" y1="408.20" x2="477.62" y2="403.40" stroke="#1e1e1e" stroke-width="1.4" />
<line x1="477.62" y1="226.40" x2="477.62" y2="231.20" stroke="#1e1e1e" stroke-width="1.4" />
<line x1="497.97" y1="408.20" x2="497.97" y2="403.40" stroke="#1e1e1e" stroke-width="1.4" />
<line x1="497.97" y1="226.40" x2="497.97" y2="231.20" stroke="#1e1e1e" stroke-width="1.4" />
<line x1="518.32" y1="408.20" x2="518.32" y2="403.40" stroke="#1e1e1e" stroke-width="1.4" />
<line x1="518.32" y1="226.40" x2="518.32" y2="231.20" stroke="#1e1e1e" stroke-width="1.4" />
<line x1="538.68" y1="408.20" x2="538.68" y2="403.40" stroke="#1e1e1e" stroke-width="1.4" />
<line x1="538.68" y1="226.40" x2="538.68" y2="231.20" stroke="#1e1e1e" stroke-width="1.4" />
<line x1="559.03" y1="408.20" x2="559.03" y2="403.40" stroke="#1e1e1e" stroke-width="1.4" />
<line x1="559.03" y1="226.40" x2="559.03" y2="231.20" stroke="#1e1e1e" stroke-width="1.4" />
<line x1="579.38" y1="408.20" x2="579.38" y2="403.40" stroke="#1e1e1e" stroke-width="1.4" />
<line x1="579.38" y1="226.40" x2="579.38" y2="231.20" stroke="#1e1e1e" stroke-width="1.4" />
<line x1="599.74" y1="408.20" x2="599.74" y2="403.40" stroke="#1e1e1e" stroke-width="1.4" />
<line x1="599.74" y1="226.40" x2="599.74" y2="231.20" stroke="#1e1e1e" stroke-width="1.4" />
<line x1="620.09" y1="408.20" x2="620.09" y2="403.40" stroke="#1e1e1e" stroke-width="1.4" />
<line x1="620.09" y1="226.40" x2="620.09" y2="231.20" stroke="#1e1e1e" stroke-width="1.4" />
<line x1="640.45" y1="408.20" x2="640.45" y2="403.40" stroke="#1e1e1e" stroke-width="1.4" />
<line x1="640.45" y1="226.40" x2="640.45" y2="231.20" stroke="#1e1e1e" stroke-width="1.4" />
<line x1="660.80" y1="408.20" x2="660.80" y2="403.40" stroke="#1e1e1e" stroke-width="1.4" />
<line x1="660.80" y1="226.40" x2="660.80" y2="231.20" stroke="#1e1e1e" stroke-width="1.4" />
<line x1="381.60" y1="401.00" x2="384.40" y2="401.00" stroke="#1e1e1e" stroke-width="1.3" />
<line x1="675.60" y1="401.00" x2="672.80" y2="401.00" stroke="#1e1e1e" stroke-width="1.3" />
<line x1="381.60" y1="394.92" x2="384.40" y2="394.92" stroke="#1e1e1e" stroke-width="1.3" />
<line x1="675.60" y1="394.92" x2="672.80" y2="394.92" stroke="#1e1e1e" stroke-width="1.3" />
<line x1="381.60" y1="389.65" x2="384.40" y2="389.65" stroke="#1e1e1e" stroke-width="1.3" />
<line x1="675.60" y1="389.65" x2="672.80" y2="389.65" stroke="#1e1e1e" stroke-width="1.3" />
<line x1="381.60" y1="385.00" x2="384.40" y2="385.00" stroke="#1e1e1e" stroke-width="1.3" />
<line x1="675.60" y1="385.00" x2="672.80" y2="385.00" stroke="#1e1e1e" stroke-width="1.3" />
<line x1="381.60" y1="353.47" x2="384.40" y2="353.47" stroke="#1e1e1e" stroke-width="1.3" />
<line x1="675.60" y1="353.47" x2="672.80" y2="353.47" stroke="#1e1e1e" stroke-width="1.3" />
<line x1="381.60" y1="337.47" x2="384.40" y2="337.47" stroke="#1e1e1e" stroke-width="1.3" />
<line x1="675.60" y1="337.47" x2="672.80" y2="337.47" stroke="#1e1e1e" stroke-width="1.3" />
<line x1="381.60" y1="326.11" x2="384.40" y2="326.11" stroke="#1e1e1e" stroke-width="1.3" />
<line x1="675.60" y1="326.11" x2="672.80" y2="326.11" stroke="#1e1e1e" stroke-width="1.3" />
<line x1="381.60" y1="317.30" x2="384.40" y2="317.30" stroke="#1e1e1e" stroke-width="1.3" />
<line x1="675.60" y1="317.30" x2="672.80" y2="317.30" stroke="#1e1e1e" stroke-width="1.3" />
<line x1="381.60" y1="310.10" x2="384.40" y2="310.10" stroke="#1e1e1e" stroke-width="1.3" />
<line x1="675.60" y1="310.10" x2="672.80" y2="310.10" stroke="#1e1e1e" stroke-width="1.3" />
<line x1="381.60" y1="304.02" x2="384.40" y2="304.02" stroke="#1e1e1e" stroke-width="1.3" />
<line x1="675.60" y1="304.02" x2="672.80" y2="304.02" stroke="#1e1e1e" stroke-width="1.3" />
<line x1="381.60" y1="298.75" x2="384.40" y2="298.75" stroke="#1e1e1e" stroke-width="1.3" />
<line x1="675.60" y1="298.75" x2="672.80" y2="298.75" stroke="#1e1e1e" stroke-width="1.3" />
<line x1="381.60" y1="294.10" x2="384.40" y2="294.10" stroke="#1e1e1e" stroke-width="1.3" />
<line x1="675.60" y1="294.10" x2="672.80" y2="294.10" stroke="#1e1e1e" stroke-width="1.3" />
<line x1="381.60" y1="262.57" x2="384.40" y2="262.57" stroke="#1e1e1e" stroke-width="1.3" />
<line x1="675.60" y1="262.57" x2="672.80" y2="262.57" stroke="#1e1e1e" stroke-width="1.3" />
<line x1="381.60" y1="246.57" x2="384.40" y2="246.57" stroke="#1e1e1e" stroke-width="1.3" />
<line x1="675.60" y1="246.57" x2="672.80" y2="246.57" stroke="#1e1e1e" stroke-width="1.3" />
<line x1="381.60" y1="235.21" x2="384.40" y2="235.21" stroke="#1e1e1e" stroke-width="1.3" />
<line x1="675.60" y1="235.21" x2="672.80" y2="235.21" stroke="#1e1e1e" stroke-width="1.3" />
<line x1="381.60" y1="380.84" x2="386.40" y2="380.84" stroke="#1e1e1e" stroke-width="1.7" />
<line x1="675.60" y1="380.84" x2="670.80" y2="380.84" stroke="#1e1e1e" stroke-width="1.7" />
<line x1="381.60" y1="289.94" x2="386.40" y2="289.94" stroke="#1e1e1e" stroke-width="1.7" />
<line x1="675.60" y1="289.94" x2="670.80" y2="289.94" stroke="#1e1e1e" stroke-width="1.7" />
<polyline points="396.20,353.90 416.55,356.10 436.91,359.10 457.26,359.10 477.62,364.50 497.97,368.20 518.32,367.40 538.68,370.20 559.03,371.90 579.38,375.40 599.74,374.40 620.09,377.70 640.45,376.80 660.80,378.90" fill="none" stroke="#0000ff" stroke-width="2.4" stroke-linejoin="round" />
<polyline points="396.20,347.50 416.55,353.90 436.91,354.30 457.26,354.50 477.62,359.50 497.97,364.50 518.32,363.20 538.68,366.70 559.03,368.80 579.38,370.80 599.74,371.20 620.09,375.60 640.45,373.90 660.80,375.10" fill="none" stroke="#0a800a" stroke-width="1.8" stroke-linejoin="round" />
<polyline points="396.20,347.50 416.55,353.90 436.91,354.30 457.26,354.50 477.62,359.50 497.97,364.50 518.32,363.20 538.68,366.70 559.03,368.60 579.38,370.50 599.74,369.90 620.09,373.10 640.45,372.70 660.80,374.70" fill="none" stroke="#0a800a" stroke-width="1.9" stroke-linejoin="round" />
<polyline points="396.20,312.50 416.55,319.80 436.91,323.20 457.26,326.60 477.62,328.40 497.97,379.60 518.32,339.50 538.68,344.10 559.03,345.20 579.38,346.90 599.74,345.70 620.09,346.90 640.45,345.70 660.80,347.30" fill="none" stroke="#555" stroke-width="1.6" stroke-linejoin="round" stroke-dasharray="2.9 1.6"/>
<polyline points="396.20,307.30 416.55,310.00 436.91,317.50 457.26,322.70 477.62,331.80 497.97,359.10 518.32,339.50 538.68,344.10 559.03,346.40 579.38,348.50 599.74,347.60 620.09,350.40 640.45,348.00 660.80,350.40" fill="none" stroke="#ff0000" stroke-width="2.2" stroke-linejoin="round" />
<polyline points="396.20,307.30 416.55,310.00 436.91,317.50 457.26,323.00 477.62,332.60 497.97,361.00 518.32,340.10 538.68,344.60 559.03,347.00 579.38,349.00 599.74,348.90 620.09,351.40 640.45,348.60 660.80,350.70" fill="none" stroke="#ff0000" stroke-width="2.3" stroke-linejoin="round" />
<rect x="442.6" y="234.4" width="225.1" height="40.8" fill="#fff" stroke="#8a8a8a" stroke-width="0.9"/>
<line x1="450.80" y1="242.50" x2="473.60" y2="242.50" stroke="#0a800a" stroke-width="1.9" />
<line x1="450.80" y1="250.80" x2="473.60" y2="250.80" stroke="#0000ff" stroke-width="1.9" />
<line x1="450.80" y1="258.90" x2="473.60" y2="258.90" stroke="#ff0000" stroke-width="1.9" />
<line x1="450.80" y1="267.00" x2="473.60" y2="267.00" stroke="#555" stroke-width="1.4" stroke-dasharray="2.9 1.6"/>
<text x="481.50" y="245.40" font-size="7.3" text-anchor="start" fill="#111" >YS1</text>
<text x="481.50" y="253.70" font-size="7.3" text-anchor="start" fill="#111" >YS2</text>
<text x="481.50" y="261.80" font-size="7.3" text-anchor="start" fill="#111" >YP</text>
<text x="481.50" y="269.90" font-size="7.3" text-anchor="start" fill="#111" >90% eq. crystallization after 10% fractionation from YS</text>
<rect x="381.6" y="226.4" width="294.00" height="181.80" fill="none" stroke="#1e1e1e" stroke-width="1.5"/>
<text transform="translate(378.80,294.14) scale(0.9,1)" font-size="10.4" text-anchor="end" fill="#111" >100</text>
<text x="378.60" y="385.44" font-size="10.4" text-anchor="end" fill="#111" >10</text>
<text transform="translate(396.20,417.80) scale(0.84,1)" font-size="10.4" text-anchor="middle" fill="#111" >La</text>
<text transform="translate(416.55,417.80) scale(0.84,1)" font-size="10.4" text-anchor="middle" fill="#111" >Ce</text>
<text transform="translate(436.91,417.80) scale(0.84,1)" font-size="10.4" text-anchor="middle" fill="#111" >Pr</text>
<text transform="translate(457.26,417.80) scale(0.84,1)" font-size="10.4" text-anchor="middle" fill="#111" >Nd</text>
<text transform="translate(477.62,417.80) scale(0.84,1)" font-size="10.4" text-anchor="middle" fill="#111" >Sm</text>
<text transform="translate(497.97,417.80) scale(0.84,1)" font-size="10.4" text-anchor="middle" fill="#111" >Eu</text>
<text transform="translate(518.32,417.80) scale(0.84,1)" font-size="10.4" text-anchor="middle" fill="#111" >Gd</text>
<text transform="translate(538.68,417.80) scale(0.84,1)" font-size="10.4" text-anchor="middle" fill="#111" >Tb</text>
<text transform="translate(559.03,417.80) scale(0.84,1)" font-size="10.4" text-anchor="middle" fill="#111" >Dy</text>
<text transform="translate(579.38,417.80) scale(0.84,1)" font-size="10.4" text-anchor="middle" fill="#111" >Ho</text>
<text transform="translate(599.74,417.80) scale(0.84,1)" font-size="10.4" text-anchor="middle" fill="#111" >Er</text>
<text transform="translate(620.09,417.80) scale(0.84,1)" font-size="10.4" text-anchor="middle" fill="#111" >Tm</text>
<text transform="translate(640.45,417.80) scale(0.84,1)" font-size="10.4" text-anchor="middle" fill="#111" >Yb</text>
<text transform="translate(660.80,417.80) scale(0.84,1)" font-size="10.4" text-anchor="middle" fill="#111" >Lu</text>
<text transform="translate(354.8,317.0) rotate(-90)" font-size="10.3" text-anchor="middle" fill="#111">sample/chondrite</text>
<text x="347.00" y="239.30" font-size="18" text-anchor="start" fill="#111" >(d)</text>
</svg></body></html>
